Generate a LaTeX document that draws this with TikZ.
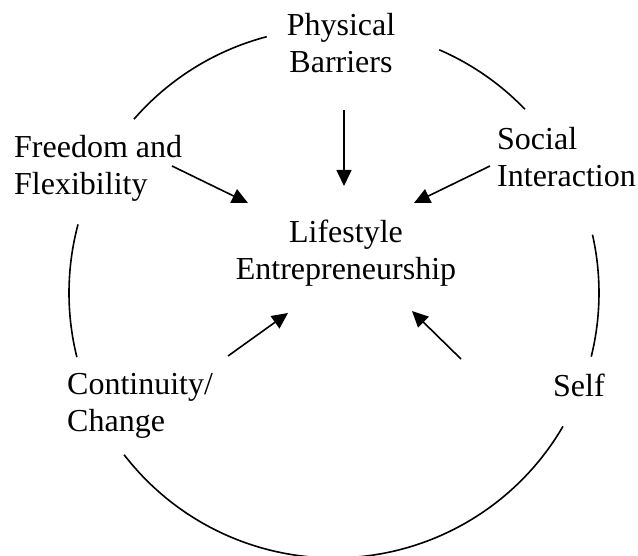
\documentclass[tikz,border=0pt]{standalone}
\usepackage{fontspec}
\setmainfont{Liberation Serif}
\usetikzlibrary{arrows.meta}
\begin{document}
\begin{tikzpicture}[x=1pt,y=1pt,
  lbl/.style={inner sep=0pt, font=\fontsize{32}{37.5}\selectfont},
  ring/.style={line width=1.6pt},
  arr/.style={line width=1.6pt, -{Triangle[length=16pt,width=15pt]}}]
\useasboundingbox (0,0) rectangle (638,555);
% circle pieces
\coordinate (c) at (334,262);
\draw[ring] (c) ++(139:265pt) arc[start angle=139, end angle=104.7, radius=265pt];
\draw[ring] (c) ++(66.6:265pt) arc[start angle=66.6, end angle=43.9, radius=265pt];
\draw[ring] (c) ++(165:265pt) arc[start angle=165, end angle=194, radius=265pt];
\draw[ring] (c) ++(12.7:265pt) arc[start angle=12.7, end angle=-13.9, radius=265pt];
\draw[ring] (c) ++(217.6:265pt) arc[start angle=217.6, end angle=329.8, radius=265pt];
% labels (base anchor = baseline of last line)
\node[lbl, anchor=base, align=center] (pb) at (341,482) {Physical\\Barriers};
\node[lbl, anchor=base west, align=left] (ff) at (14,360) {Freedom and\\Flexibility};
\node[lbl, anchor=base west, align=left] (si) at (497,368) {Social\\Interaction};
\node[lbl, anchor=base, align=center] (le) at (346,275) {Lifestyle\\Entrepreneurship};
\node[lbl, anchor=base west, align=left] (cc) at (67,123) {Continuity/\\Change};
\node[lbl, anchor=base west] (se) at (553,158) {Self};
% arrow ends
\coordinate (pbs) at (344,445); \coordinate (pbe) at (344,369);
\coordinate (ffs) at (172,389); \coordinate (ffe) at (248,352);
\coordinate (sis) at (490,389); \coordinate (sie) at (414,352);
\coordinate (ccs) at (228,199); \coordinate (cce) at (288,242);
\coordinate (ses) at (461,196); \coordinate (see) at (412,244);
\draw[arr] (pbs) -- (pbe);
\draw[arr] (ffs) -- (ffe);
\draw[arr] (sis) -- (sie);
\draw[arr] (ccs) -- (cce);
\draw[arr] (ses) -- (see);
\end{tikzpicture}
\end{document}
